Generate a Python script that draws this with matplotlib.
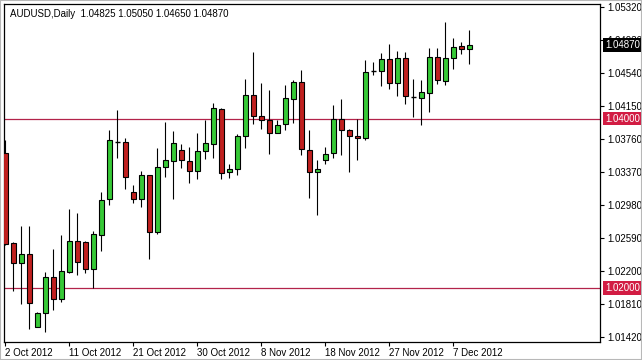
import matplotlib
matplotlib.use('Agg')
import matplotlib.pyplot as plt
from matplotlib.patches import Rectangle

plt.rcParams['font.family'] = ['Liberation Sans', 'DejaVu Sans']

title_text = "AUDUSD,Daily  1.04825 1.05050 1.04650 1.04870"

opens = [1.03599, 1.02530, 1.02294, 1.02400, 1.01546, 1.01704, 1.02129, 1.01869, 1.02195, 1.02553,
         1.02542, 1.02223, 1.02624, 1.03049, 1.03729, 1.03722, 1.03141, 1.03049, 1.03332, 1.02660,
         1.03427, 1.03497, 1.03627, 1.03497, 1.03379, 1.03615, 1.03698, 1.04111, 1.03368, 1.03403,
         1.03792, 1.04276, 1.04028, 1.03985, 1.03828, 1.03934, 1.04229, 1.04429, 1.03627, 1.03368,
         1.03509, 1.03592, 1.03993, 1.03863, 1.03792, 1.03769, 1.04559, 1.04559, 1.04701, 1.04418,
         1.04713, 1.04260, 1.04241, 1.04300, 1.04724, 1.04441, 1.04713, 1.04854, 1.04825]
highs = [1.03749, 1.02549, 1.02734, 1.02734, 1.01723, 1.02188, 1.02462, 1.02628, 1.02934, 1.02884,
         1.02556, 1.02678, 1.03132, 1.03867, 1.04103, 1.03769, 1.03218, 1.03383, 1.03340, 1.03651,
         1.03958, 1.03855, 1.03701, 1.03666, 1.03828, 1.03985, 1.04182, 1.04123, 1.03462, 1.03816,
         1.04465, 1.04785, 1.04418, 1.04335, 1.03981, 1.04394, 1.04453, 1.04571, 1.03863, 1.03509,
         1.03663, 1.04158, 1.04229, 1.03876, 1.04002, 1.04689, 1.04665, 1.04772, 1.04878, 1.04795,
         1.04783, 1.04465, 1.04453, 1.04831, 1.04831, 1.05137, 1.04949, 1.04901, 1.05050]
lows = [1.02510, 1.01967, 1.01810, 1.01515, 1.01539, 1.01487, 1.01743, 1.01834, 1.02176, 1.02159,
        1.02176, 1.02006, 1.02442, 1.02985, 1.03533, 1.03167, 1.03002, 1.02955, 1.02348, 1.02640,
        1.03316, 1.03049, 1.03422, 1.03245, 1.03283, 1.03521, 1.03542, 1.03294, 1.03306, 1.03332,
        1.03651, 1.03934, 1.03875, 1.03580, 1.03828, 1.03863, 1.03955, 1.03568, 1.03061, 1.02860,
        1.03462, 1.03533, 1.03566, 1.03368, 1.03509, 1.03749, 1.04512, 1.04382, 1.04347, 1.04264,
        1.04170, 1.04017, 1.03922, 1.04076, 1.04406, 1.04394, 1.04583, 1.04760, 1.04650]
closes = [1.02518, 1.02294, 1.02403, 1.01822, 1.01711, 1.02129, 1.01869, 1.02199, 1.02553, 1.02306,
          1.02226, 1.02639, 1.03041, 1.03745, 1.03729, 1.03318, 1.03049, 1.03332, 1.02660, 1.03427,
          1.03509, 1.03710, 1.03509, 1.03379, 1.03615, 1.03710, 1.04123, 1.03356, 1.03403, 1.03792,
          1.04276, 1.04028, 1.03981, 1.03828, 1.03922, 1.04241, 1.04429, 1.03639, 1.03368, 1.03403,
          1.03580, 1.03993, 1.03863, 1.03792, 1.03769, 1.04547, 1.04559, 1.04701, 1.04418, 1.04713,
          1.04264, 1.04260, 1.04312, 1.04724, 1.04453, 1.04713, 1.04842, 1.04819, 1.04870]

date_labels = ["2 Oct 2012", "11 Oct 2012", "21 Oct 2012", "30 Oct 2012",
               "8 Nov 2012", "18 Nov 2012", "27 Nov 2012", "7 Dec 2012"]
date_label_bars = [0, 8, 16, 24, 32, 40, 48, 56]

price_ticks = [1.05320, 1.04930, 1.04540, 1.04150, 1.03760, 1.03370,
               1.02980, 1.02590, 1.02200, 1.01810, 1.01420]
level_lines = [1.04000, 1.02000]
current_price = 1.04870

UP = '#36c936'
DOWN = '#c0201f'
LEVEL = '#b3234a'
LEVEL_BOX = '#d21c43'
FS = 7

fig = plt.figure(figsize=(6.42, 3.60), dpi=100)
fig.patch.set_facecolor('white')
ax = fig.add_axes([4 / 642, 18.5 / 360, 596 / 642, 337.5 / 360])
ax.set_facecolor('white')

xs = list(range(len(opens)))
body_w = 0.6
for x, o, h, l, c in zip(xs, opens, highs, lows, closes):
    ax.vlines(x, l, h, color='black', linewidth=0.8, zorder=2)
    if abs(c - o) < 1e-9:
        ax.hlines(o, x - body_w / 2, x + body_w / 2, color='black', linewidth=1.0, zorder=3)
    else:
        col = UP if c > o else DOWN
        ax.bar(x, abs(c - o), bottom=min(o, c), width=body_w, color=col,
               edgecolor='black', linewidth=0.8, zorder=3)

for lv in level_lines:
    ax.axhline(lv, color=LEVEL, linewidth=0.9, zorder=1)

ax.set_xlim(-0.1625, 74.34)
ax.set_ylim(1.013711, 1.053534)

# axes styling
for sp in ax.spines.values():
    sp.set_color('black')
    sp.set_linewidth(0.9)
ax.yaxis.tick_right()
ax.set_yticks(price_ticks)
ax.set_yticklabels([f"{p:.5f}" for p in price_ticks])
ax.tick_params(axis='y', direction='out', length=3, width=0.8, pad=2, labelsize=FS, colors='black')
ax.set_xticks(date_label_bars)
ax.set_xticklabels(date_labels)
ax.tick_params(axis='x', direction='out', length=3, width=0.8, pad=2, labelsize=FS, colors='black')
for lab in ax.get_xticklabels():
    lab.set_horizontalalignment('left')

# right-side price boxes
def price_box(price, fc):
    ax.annotate(f"{price:.5f}", xy=(1.0, price), xycoords=('axes fraction', 'data'),
                xytext=(3.5, 0), textcoords='offset points', ha='left', va='center',
                fontsize=FS, color='white', zorder=10, annotation_clip=False,
                bbox=dict(boxstyle='square,pad=0.18', fc=fc, ec='none'))

for lv in level_lines:
    price_box(lv, LEVEL_BOX)
price_box(current_price, 'black')

ax.text(0.01, 0.985, title_text, transform=ax.transAxes, ha='left', va='top',
        fontsize=FS, color='black')

fig.patches.append(Rectangle((0, 0), 1, 1, transform=fig.transFigure, fill=False,
                             edgecolor='#b8b8b8', linewidth=1.5))

fig.savefig('out.png', dpi=100, facecolor='white')
